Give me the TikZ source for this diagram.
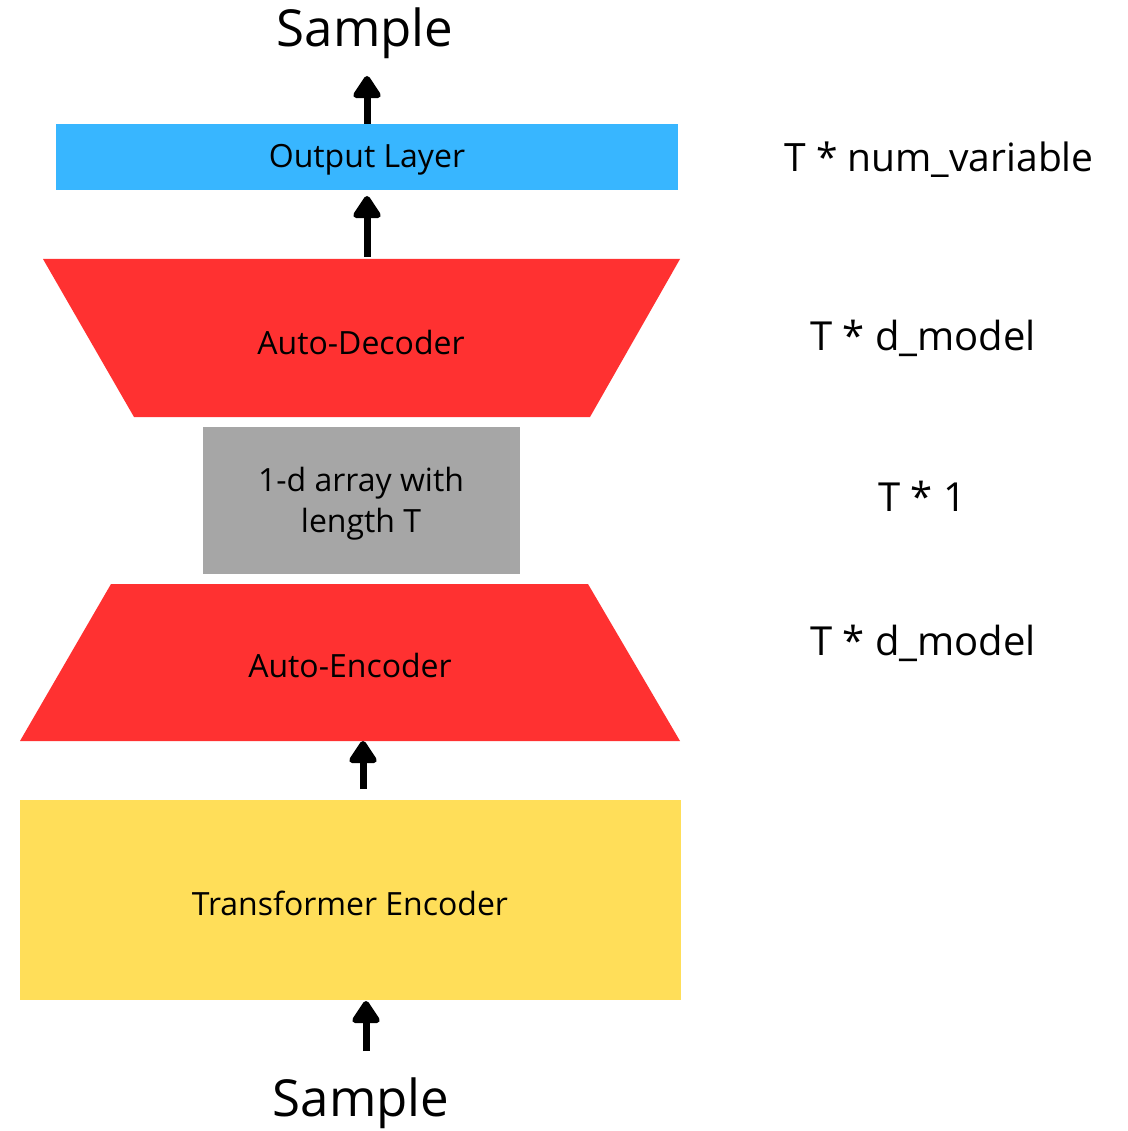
\documentclass[tikz,border=0pt]{standalone}
\usepackage{fontspec}
\setmainfont{Open Sans}
\usetikzlibrary{arrows.meta}
\definecolor{layerblue}{HTML}{38B6FF}
\definecolor{coderred}{HTML}{FF3131}
\definecolor{arraygray}{HTML}{A6A6A6}
\definecolor{encyellow}{HTML}{FFDE59}
\tikzset{
  blocktext/.style={font=\fontsize{32}{38}\selectfont, align=center, inner sep=0pt},
  dimtext/.style={font=\fontsize{40}{48}\selectfont, inner sep=0pt},
  sampletext/.style={font=\fontsize{51}{60}\selectfont, inner sep=0pt},
  flow/.style={line width=7pt, -{Triangle[width=31pt,length=25pt,round]}},
}
\begin{document}
\begin{tikzpicture}[x=1pt,y=-1pt]
  \useasboundingbox (0,0) rectangle (1127,1131);
  \fill[white] (0,0) rectangle (1127,1131);

  % blocks
  \fill[layerblue] (56,124) rectangle (678,190);
  \node[blocktext] (out) at (367,160) {Output Layer};

  \fill[coderred] (43,259) -- (680,259) -- (590,417) -- (134,417) -- cycle;
  \node[blocktext] (dec) at (361,342) {Auto-Decoder};

  \fill[arraygray] (203,427) rectangle (520,574);
  \node[blocktext, font=\fontsize{32}{41}\selectfont] (arr) at (361,504) {1-d array with\\length T};

  \fill[coderred] (111,584) -- (588,584) -- (680,741) -- (20,741) -- cycle;
  \node[blocktext] (enc) at (350,665) {Auto-Encoder};

  \fill[encyellow] (20,800) rectangle (681,1000);
  \node[blocktext] (tr) at (350,903) {Transformer Encoder};

  % input / output
  \node[sampletext] (stop) at (365,33) {Sample};
  \node[sampletext] (sbot) at (361,1103) {Sample};

  % arrow endpoints
  \coordinate (a1s) at (367,124);  \coordinate (a1e) at (367,76);
  \coordinate (a2s) at (367,257);  \coordinate (a2e) at (367,196);
  \coordinate (a3s) at (363,789);  \coordinate (a3e) at (363,741);
  \coordinate (a4s) at (366,1051); \coordinate (a4e) at (366,1001);
  \draw[flow] (a1s) -- (a1e);
  \draw[flow] (a2s) -- (a2e);
  \draw[flow] (a3s) -- (a3e);
  \draw[flow] (a4s) -- (a4e);

  % dimensions
  \node[dimtext, font=\fontsize{39}{46}\selectfont] (d1) at (939,160) {T * num\_variable};
  \node[dimtext] (d2) at (923,338) {T * d\_model};
  \node[dimtext] (d3) at (922,496) {T * 1};
  \node[dimtext] (d4) at (923,643) {T * d\_model};
\end{tikzpicture}
\end{document}
